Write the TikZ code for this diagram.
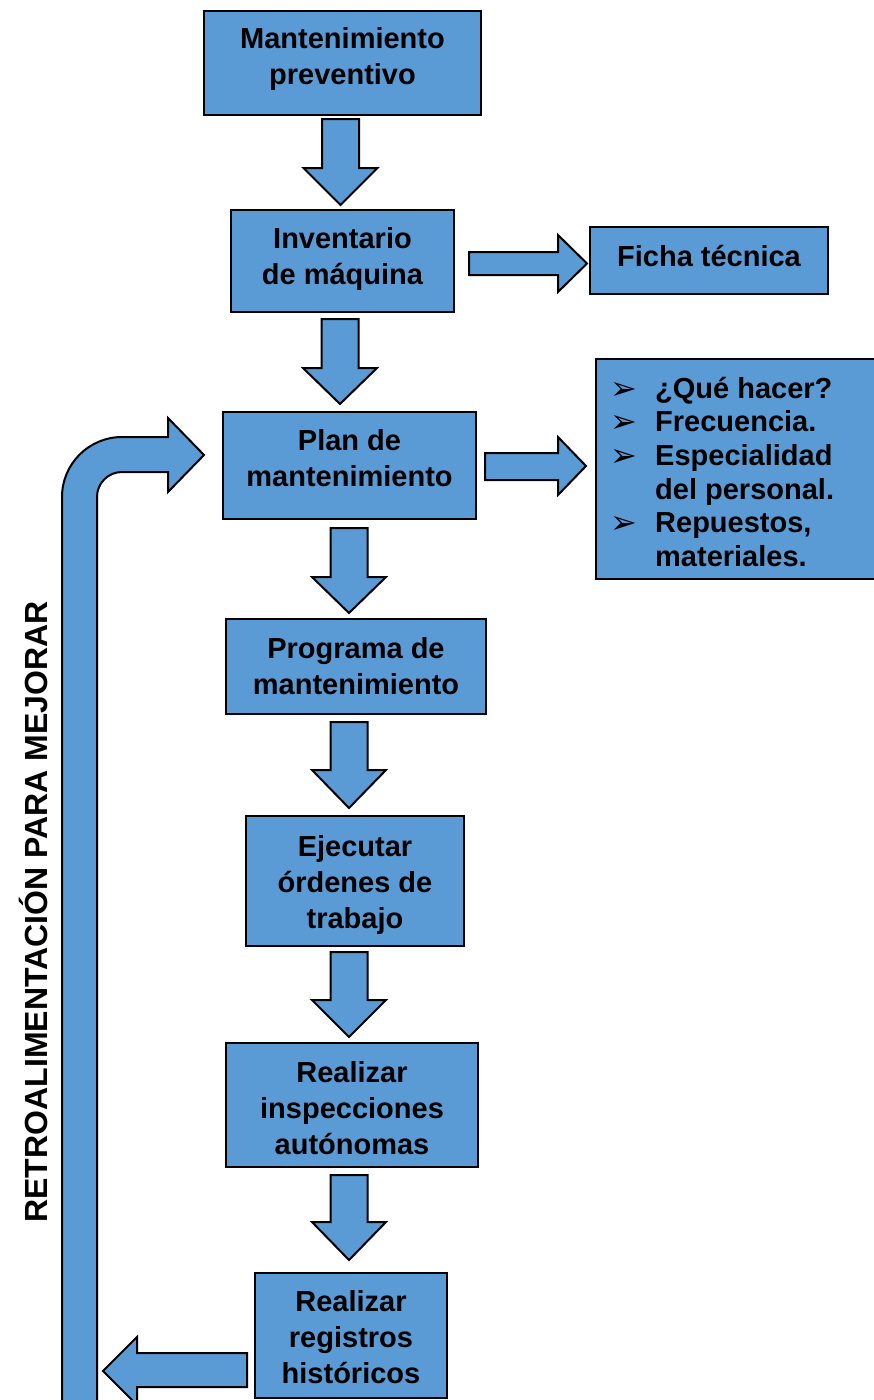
\documentclass[tikz,border=0pt]{standalone}
\usepackage{fontspec}
\setmainfont{Liberation Sans}
\newfontfamily\dejavu{DejaVu Sans}
\definecolor{boxblue}{RGB}{91,155,213}
\newcommand\tb[1]{\begin{tabular}{@{}c@{}}#1\end{tabular}}
\newcommand\bul{\makebox[45pt][l]{\raisebox{-1pt}{\dejavu\fontsize{32}{32}\selectfont ➢}}}
\tikzset{
  box/.style={draw=black, line width=2pt, fill=boxblue, inner sep=0pt},
  txt/.style={inner sep=0pt, font=\bfseries\fontsize{29}{36}\selectfont},
  blk/.style={draw=black, line width=2pt, fill=boxblue, line join=miter}
}
\newcommand\DArrow[4]{% xc, top, base, tip
  \draw[blk] (#1-18.5,#2) -- (#1+18.5,#2) -- (#1+18.5,#3) -- (#1+37,#3) -- (#1,#4) -- (#1-37,#3) -- (#1-18.5,#3) -- cycle;}
\begin{document}
\begin{tikzpicture}[x=1pt,y=-1pt]
\useasboundingbox (0,0) rectangle (874,1400);
\clip (0,0) rectangle (874,1400);
\fill[white] (0,0) rectangle (874,1400);

% boxes
\node[box, minimum width=277, minimum height=104] (b1) at (342.5,63) {};
\node[box, minimum width=223, minimum height=102] (b2) at (342.5,261) {};
\node[box, minimum width=238, minimum height=67] (b3) at (709,260.5) {};
\node[box, minimum width=253, minimum height=107] (b4) at (349.5,465.5) {};
\node[box, minimum width=280, minimum height=220] (b5) at (736,469) {};
\node[box, minimum width=260, minimum height=95] (b6) at (356,666.5) {};
\node[box, minimum width=218, minimum height=130] (b7) at (355,881) {};
\node[box, minimum width=252, minimum height=124] (b8) at (352,1105) {};
\node[box, minimum width=192, minimum height=125] (b9) at (351,1335.5) {};

% texts
\node[txt] (t1) at (342.5,59.5) {\tb{Mantenimiento\\preventivo}};
\node[txt] (t2) at (342.5,259) {\tb{Inventario\\de máquina}};
\node[txt] (t3) at (709,259) {\tb{Ficha técnica}};
\node[txt] (t4) at (349.5,461.5) {\tb{Plan de\\mantenimiento}};
\node[txt] (t6) at (356,669) {\tb{Programa de\\mantenimiento}};
\node[txt] (t7) at (355,885) {\tb{Ejecutar\\órdenes de\\trabajo}};
\node[txt] (t8) at (352,1111) {\tb{Realizar\\inspecciones\\autónomas}};
\node[txt] (t9) at (351,1340) {\tb{Realizar\\registros\\históricos}};
\node[inner sep=0pt, anchor=north west, font=\bfseries\fontsize{29}{33.6}\selectfont] (t5) at (610,374.5) {%
  \begin{tabular}{@{}l@{}l@{}}
  \bul & ¿Qué hacer?\\
  \bul & Frecuencia.\\
  \bul & Especialidad\\
       & del personal.\\
  \bul & Repuestos,\\
       & materiales.
  \end{tabular}};

% rotated label
\node[inner sep=0pt, rotate=90, font=\bfseries\fontsize{32}{36}\selectfont] (lab) at (33,912) {RETROALIMENTACIÓN PARA MEJORAR};

% down arrows
\DArrow{340.5}{119}{168}{205}
\DArrow{340}{319}{368}{404}
\DArrow{349}{528}{577}{613}
\DArrow{349}{722}{770}{808}
\DArrow{349}{952}{1000}{1037}
\DArrow{349}{1175}{1222}{1260}

% right arrows
\draw[blk] (469,252) -- (558,252) -- (558,235) -- (587,263.5) -- (558,292) -- (558,275) -- (469,275) -- cycle;
\draw[blk] (485,453) -- (558,453) -- (558,437) -- (586,466) -- (558,495) -- (558,480) -- (485,480) -- cycle;

% bottom left arrow
\draw[blk] (247,1353) -- (137,1353) -- (137,1337) -- (103,1371) -- (137,1405) -- (137,1387) -- (247,1387) -- cycle;

% feedback arrow
\draw[blk] (62,1410) -- (62,497) .. controls (62,463.9) and (88.9,437) .. (122,437) -- (168,437) -- (168,418) -- (204,455) -- (168,492) -- (168,472) -- (122,472) .. controls (108.2,472) and (97,483.2) .. (97,497) -- (97,1410) -- cycle;
\end{tikzpicture}
\end{document}
